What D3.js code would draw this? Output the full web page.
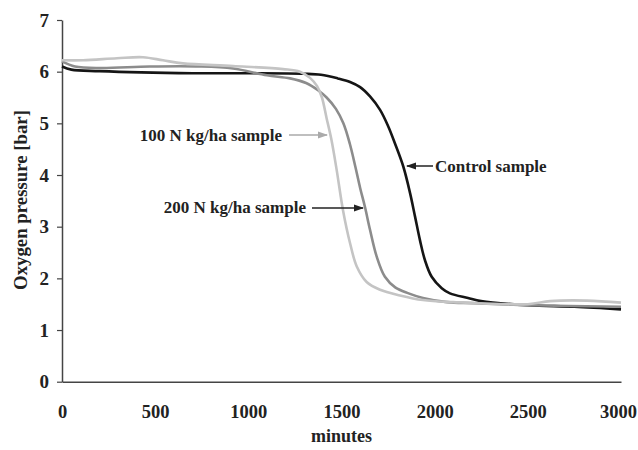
<!DOCTYPE html>
<html>
<head>
<meta charset="utf-8">
<script src="https://cdn.jsdelivr.net/npm/d3@7"></script>
<style>
  body { margin: 0; background: #fff; }
  text { font-family: "Liberation Serif", "Times New Roman", serif; font-weight: bold; fill: #222; }
</style>
</head>
<body>
<svg id="chart" width="638" height="450"></svg>
<script>
// data (minutes, bar)
const controlMinutes = [0, 50, 200, 700, 1000, 1300, 1390, 1480, 1546, 1600, 1653, 1707, 1751, 1787, 1832, 1868, 1895, 1921, 1948, 1984, 2038, 2082, 2179, 2249, 2501, 2750, 3000];
const controlValues  = [6.1, 6.04, 6.01, 5.97, 5.97, 5.96, 5.94, 5.87, 5.8, 5.7, 5.52, 5.26, 4.94, 4.61, 4.16, 3.65, 3.19, 2.74, 2.35, 2.03, 1.81, 1.71, 1.62, 1.56, 1.48, 1.45, 1.4];

const n200Minutes = [0, 70, 204, 472, 741, 918, 1100, 1224, 1310, 1374, 1420, 1470, 1510, 1545, 1575, 1600, 1626, 1653, 1689, 1733, 1790, 1860, 1937, 2066, 2206, 2500, 3000];
const n200Values  = [6.2, 6.1, 6.07, 6.1, 6.1, 6.06, 5.93, 5.87, 5.78, 5.64, 5.5, 5.28, 5.0, 4.6, 4.15, 3.75, 3.38, 2.94, 2.42, 2.03, 1.82, 1.71, 1.62, 1.54, 1.52, 1.48, 1.45];

const n100Minutes = [0, 113, 295, 435, 542, 649, 918, 1186, 1277, 1331, 1369, 1395, 1420, 1445, 1474, 1508, 1546, 1582, 1635, 1707, 1814, 1937, 2100, 2500, 2620, 2817, 3000];
const n100Values  = [6.22, 6.22, 6.26, 6.28, 6.22, 6.16, 6.11, 6.05, 6.0, 5.88, 5.72, 5.5, 5.1, 4.7, 4.1, 3.32, 2.68, 2.23, 1.93, 1.78, 1.67, 1.58, 1.54, 1.5, 1.56, 1.57, 1.53];

const xTicks = [0, 500, 1000, 1500, 2000, 2500, 3000];
const yTicks = [0, 1, 2, 3, 4, 5, 6, 7];

const svg = d3.select("#chart");
const plotLeft = 62, plotRight = 621, plotTop = 20, plotBottom = 381.7;

const x = d3.scaleLinear().domain([0, 3000]).range([plotLeft, plotRight]);
const y = d3.scaleLinear().domain([0, 7]).range([plotBottom, plotTop]);

// axes
const xAxis = svg.append("g")
    .attr("transform", "translate(0," + plotBottom + ")")
    .call(d3.axisBottom(x).tickValues(xTicks).tickFormat(d3.format("d"))
        .tickSize(0).tickPadding(23).tickSizeOuter(0));
xAxis.select(".domain").attr("stroke", "#444").attr("stroke-width", 1.5);
xAxis.selectAll("text").style("font-size", "18.5px").attr("fill", "#222");
// last label sits a little left so it stays inside the page
xAxis.selectAll(".tick").filter(d => d === 3000).select("text").attr("dx", -3);

const yAxis = svg.append("g")
    .attr("transform", "translate(" + plotLeft + ",0)")
    .call(d3.axisLeft(y).tickValues(yTicks).tickFormat(d3.format("d"))
        .tickSize(5).tickPadding(8).tickSizeOuter(0));
yAxis.select(".domain").attr("stroke", "#444").attr("stroke-width", 1.5);
yAxis.selectAll("line").attr("stroke", "#444").attr("stroke-width", 1.2);
yAxis.selectAll("text").style("font-size", "19px").attr("fill", "#222");

// axis titles
svg.append("text")
    .attr("x", (plotLeft + plotRight) / 2)
    .attr("y", 442)
    .attr("text-anchor", "middle")
    .style("font-size", "18px")
    .text("minutes");

svg.append("text")
    .attr("transform", "translate(27,200) rotate(-90)")
    .attr("text-anchor", "middle")
    .style("font-size", "18.8px")
    .text("Oxygen pressure [bar]");

// lines
const line = d3.line()
    .x(d => x(d[0]))
    .y(d => y(d[1]))
    .curve(d3.curveCatmullRom.alpha(0.5));

const series = [
    { minutes: controlMinutes, values: controlValues, color: "#151515" },
    { minutes: n200Minutes, values: n200Values, color: "#8c8c8c" },
    { minutes: n100Minutes, values: n100Values, color: "#c4c4c4" }
];

series.forEach(function (s) {
    svg.append("path")
        .datum(d3.zip(s.minutes, s.values))
        .attr("fill", "none")
        .attr("stroke", s.color)
        .attr("stroke-width", 2.6)
        .attr("d", line);
});

// arrow markers
const defs = svg.append("defs");
function arrowHead(id, color) {
    defs.append("marker")
        .attr("id", id)
        .attr("viewBox", "0 0 10 10")
        .attr("refX", 9)
        .attr("refY", 5)
        .attr("markerWidth", 7)
        .attr("markerHeight", 7)
        .attr("orient", "auto")
        .append("path")
        .attr("d", "M0,1.5 L10,5 L0,8.5 Z")
        .attr("fill", color);
}
arrowHead("arrowLight", "#aaa");
arrowHead("arrowDark", "#222");

// annotations
function annotate(label, textX, textY, anchor, x1, x2, arrowY, color, markerId) {
    svg.append("text")
        .attr("x", textX)
        .attr("y", textY)
        .attr("text-anchor", anchor)
        .style("font-size", "17px")
        .text(label);
    svg.append("line")
        .attr("x1", x1).attr("y1", arrowY)
        .attr("x2", x2).attr("y2", arrowY)
        .attr("stroke", color)
        .attr("stroke-width", 1.5)
        .attr("marker-end", "url(#" + markerId + ")");
}

annotate("100 N kg/ha sample", 282, 141, "end", 289, 327, 135, "#aaa", "arrowLight");
annotate("200 N kg/ha sample", 306, 213, "end", 312, 363, 208, "#222", "arrowDark");
annotate("Control sample", 435, 172, "start", 433, 407, 166, "#222", "arrowDark");
</script>
</body>
</html>
